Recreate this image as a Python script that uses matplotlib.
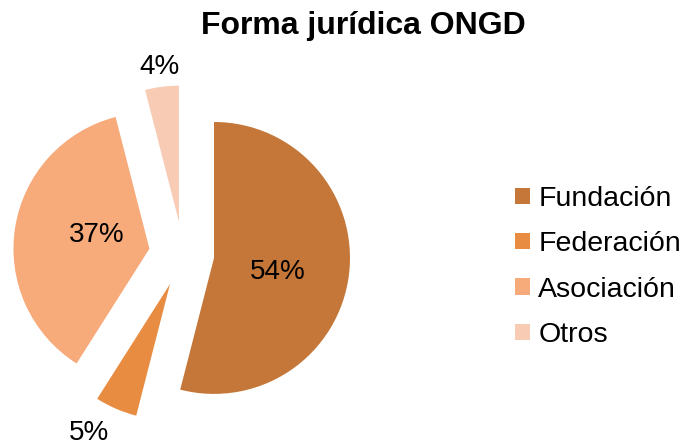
import numpy as np
import matplotlib
matplotlib.use("Agg")
import matplotlib.pyplot as plt

plt.rcParams['font.family'] = ['Liberation Sans', 'DejaVu Sans']

categorias = ["Fundación", "Federación", "Asociación", "Otros"]
porcentajes = [54, 5, 37, 4]
colores = ["#C47738", "#E88C42", "#F7AA7A", "#F8CBB4"]
explosion = [0.23, 0.24, 0.25, 0.24]
# distancia (en radios) y giro (grados) de cada etiqueta respecto a su porción
dist_etiqueta = [0.48, 1.25, 0.40, 1.15]
giro_etiqueta = [-5, -5, -6, 0]

fig = plt.figure(figsize=(6.84, 4.45), dpi=100)
ax = fig.add_axes([0, 0, 366 / 684, 395 / 445])

wedges, _ = ax.pie(porcentajes, colors=colores, explode=explosion,
                   startangle=90, counterclock=False,
                   wedgeprops=dict(linewidth=0))

for w, pct, d, g in zip(wedges, porcentajes, dist_etiqueta, giro_etiqueta):
    ang = np.deg2rad((w.theta1 + w.theta2) / 2 + g)
    cx, cy = w.center
    ax.text(cx + d * w.r * np.cos(ang), cy + d * w.r * np.sin(ang), f"{pct}%",
            ha='center', va='center', fontsize=20, color='black')

# 136 px por unidad de radio, centro en (183, 254) px
ax.set_xlim(-1.346, 1.346)
ax.set_ylim(-1.404, 1.500)
ax.axis('off')

fig.suptitle("Forma jurídica ONGD", x=0.531, y=0.975, fontsize=23,
             fontweight='bold', va='top')

fig.legend(wedges, categorias, loc='center left', bbox_to_anchor=(0.716, 0.40),
           frameon=False, fontsize=20.5, handlelength=0.5, handleheight=0.5,
           handletextpad=0.3, labelspacing=0.68)

fig.savefig("out.png", dpi=100)
